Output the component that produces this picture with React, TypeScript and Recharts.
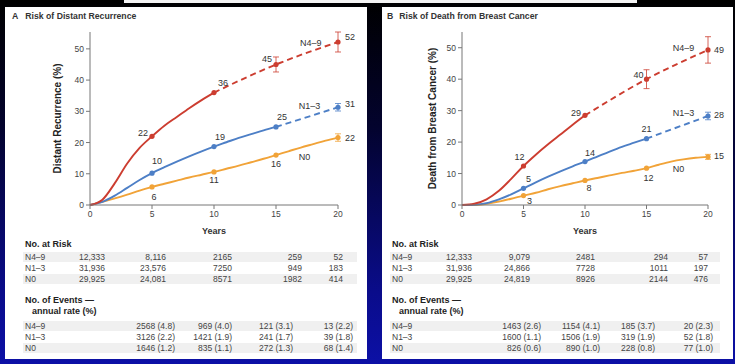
import React from 'react';
import { ComposedChart, Line, Scatter, XAxis, YAxis, ErrorBar } from 'recharts';

const FONT = "'Liberation Sans', Arial, sans-serif";
const RED = '#cc3d30';
const BLUE = '#4d7fc6';
const ORANGE = '#f1a338';

const years = [0, 1, 2, 3, 4, 5, 6, 7, 8, 9, 10, 11, 12, 13, 14, 15, 16, 17, 18, 19, 20];
const n49LateYears = [10, 15, 20];
const n13LateYears = [15, 20];
const markYears = [5, 10, 15, 20];
const groups = ['N4–9', 'N1–3', 'N0'];

// A: distant recurrence (%), solid = observed, late = dashed part
const recurN49 = [0, 1.7, 7, 13.3, 18.3, 22, 25.4, 28.2, 31, 33.6, 36];
const recurN49Late = [36, 45, 52.2];
const recurN13 = [0, 1, 3, 5.5, 8, 10.2, 12.1, 13.9, 15.6, 17.2, 18.7, 20.1, 21.5, 22.7, 23.9, 25];
const recurN13Late = [25, 31.3];
const recurN0 = [0, 1, 2.1, 3.3, 4.6, 5.8, 6.8, 7.8, 8.8, 9.7, 10.6, 11.6, 12.6, 13.7, 14.8, 16, 17.2, 18.4, 19.5, 20.6, 21.6];
const recurMarks = [[22, 36, 45, 52.2], [10.2, 18.7, 25, 31.3], [5.8, 10.6, 16, 21.6]];
const recurErr = [[0, 0, 2.4, 3.2], [0, 0, 0, 1.2], [0, 0, 0, 1.2]];
const recurLabels = [['22', '36', '45', '52'], ['10', '19', '25', '31'], ['6', '11', '16', '22']];

// B: death from breast cancer (%)
const deathN49 = [0, 0.4, 1.8, 4.5, 8.3, 12.4, 16, 19.3, 22.4, 25.5, 28.5];
const deathN49Late = [28.5, 40, 49.3];
const deathN13 = [0, 0.1, 0.6, 1.8, 3.4, 5.3, 7.2, 9, 10.7, 12.3, 13.8, 15.4, 17, 18.5, 19.8, 21.1];
const deathN13Late = [21.1, 28.3];
const deathN0 = [0, 0, 0.4, 1.1, 2, 3, 3.9, 5, 6, 6.9, 7.8, 8.6, 9.4, 10.2, 10.9, 11.7, 12.8, 13.8, 14.5, 15, 15.3];
const deathMarks = [[12.4, 28.5, 40, 49.3], [5.3, 13.8, 21.1, 28.3], [3, 7.8, 11.7, 15.3]];
const deathErr = [[0, 0, 3, 4.2], [0, 0, 0, 1.2], [0, 0, 0, 0.8]];
const deathLabels = [['12', '29', '40', '49'], ['5', '14', '21', '28'], ['3', '8', '12', '15']];

const recurAtRisk = [
  ['12,333', '8,116', '2165', '259', '52'],
  ['31,936', '23,576', '7250', '949', '183'],
  ['29,925', '24,081', '8571', '1982', '414'],
];
const recurEvents = [
  ['2568 (4.8)', '969 (4.0)', '121 (3.1)', '13 (2.2)'],
  ['3126 (2.2)', '1421 (1.9)', '241 (1.7)', '39 (1.8)'],
  ['1646 (1.2)', '835 (1.1)', '272 (1.3)', '68 (1.4)'],
];
const deathAtRisk = [
  ['12,333', '9,079', '2481', '294', '57'],
  ['31,936', '24,866', '7728', '1011', '197'],
  ['29,925', '24,819', '8926', '2144', '476'],
];
const deathEvents = [
  ['1463 (2.6)', '1154 (4.1)', '185 (3.7)', '20 (2.3)'],
  ['1600 (1.1)', '1506 (1.9)', '319 (1.9)', '52 (1.8)'],
  ['826 (0.6)', '890 (1.0)', '228 (0.8)', '77 (1.0)'],
];

// where the curve names sit, in data units
const recurNames = [[17.8, 52], [17.7, 31.8], [17.3, 15.3]];
const deathNames = [[18, 49.8], [18, 29.2], [17.6, 11.6]];

// label offsets (px) for each marker: [dx, dy, anchor]
const recurOffsets: [number, number, string][][] = [
  [[-4, -3, 'end'], [4, -10, 'start'], [-4, -5, 'end'], [7, -5, 'start']],
  [[5, -12, 'middle'], [6, -10, 'middle'], [6, -10, 'middle'], [7, -3, 'start']],
  [[2, 10, 'middle'], [0, 8, 'middle'], [0, 9, 'middle'], [7, 0, 'start']],
];
const deathOffsets: [number, number, string][][] = [
  [[-4, -9, 'middle'], [-4, -2, 'end'], [-3, -4, 'end'], [6, 0, 'start']],
  [[5, -9, 'middle'], [5, -9, 'middle'], [0, -10, 'middle'], [6, -1, 'start']],
  [[6, 5, 'middle'], [4, 8, 'middle'], [2, 10, 'middle'], [6, -1, 'start']],
];

const buildRows = (n49: number[], n49Late: number[], n13: number[], n13Late: number[], n0: number[]) =>
  years.map((yr, i) => ({
    year: yr,
    n49: i < n49.length ? n49[i] : null,
    n49Late: n49LateYears.includes(yr) ? n49Late[n49LateYears.indexOf(yr)] : null,
    n13: i < n13.length ? n13[i] : null,
    n13Late: n13LateYears.includes(yr) ? n13Late[n13LateYears.indexOf(yr)] : null,
    n0: n0[i],
  }));

const buildMarks = (vals: number[], errs: number[], labels: string[], offs: [number, number, string][]) =>
  markYears.map((yr, i) => ({
    year: yr,
    v: vals[i],
    err: errs[i],
    text: labels[i],
    dx: offs[i][0],
    dy: offs[i][1],
    anchor: offs[i][2],
  }));

const markShape = (color: string) => (p: any) => {
  const { cx, cy, payload } = p;
  if (cx == null || cy == null) return <g />;
  return (
    <g>
      <circle cx={cx} cy={cy} r={2.6} fill={color} />
      <text
        x={cx + payload.dx}
        y={cy + payload.dy}
        textAnchor={payload.anchor}
        dominantBaseline="central"
        fontSize={9}
        fontFamily={FONT}
        fill="#333"
      >
        {payload.text}
      </text>
    </g>
  );
};

const nameShape = (p: any) => {
  const { cx, cy, payload } = p;
  if (cx == null || cy == null) return <g />;
  return (
    <text x={cx} y={cy} textAnchor="middle" dominantBaseline="central" fontSize={9} fontFamily={FONT} fill="#333">
      {payload.text}
    </text>
  );
};

const yTick = (p: any) => {
  const v = p.payload.value;
  return (
    <text x={p.x} y={p.y} textAnchor="end" dominantBaseline="central" fontSize={8.5} fontFamily={FONT} fill="#444">
      {v % 10 === 0 ? v : ''}
    </text>
  );
};

interface PanelProps {
  left: number;
  width: number;
  marginLeft: number;
  marginRight: number;
  yLabel: string;
  yLabelOffset: number;
  rows: any[];
  marks: any[][];
  names: number[][];
}

const Panel = ({ left, width, marginLeft, marginRight, yLabel, yLabelOffset, rows, marks, names }: PanelProps) => {
  const colors = [RED, BLUE, ORANGE];
  const nameData = names.map((n, i) => ({ year: n[0], v: n[1], text: groups[i] }));
  return (
    <div style={{ position: 'absolute', left, top: 0 }}>
      <ComposedChart
        width={width}
        height={240}
        data={rows}
        margin={{ top: 32, right: marginRight, bottom: 0, left: marginLeft }}
        style={{ fontFamily: FONT }}
      >
        <XAxis
          type="number"
          dataKey="year"
          domain={[0, 20]}
          ticks={[0, 5, 10, 15, 20]}
          height={35}
          stroke="#777"
          tickSize={4}
          tick={{ fontSize: 8.5, fill: '#444', fontFamily: FONT }}
          label={{ value: 'Years', position: 'insideBottom', offset: 6, fontSize: 9, fontWeight: 'bold', fill: '#333' }}
        />
        <YAxis
          type="number"
          domain={[0, 55]}
          ticks={[0, 5, 10, 15, 20, 25, 30, 35, 40, 45, 50]}
          width={40}
          stroke="#777"
          tickSize={4}
          tick={yTick}
          label={{
            value: yLabel,
            angle: -90,
            position: 'insideLeft',
            offset: yLabelOffset,
            style: { textAnchor: 'middle', fontSize: 10, fontWeight: 'bold', fill: '#222', fontFamily: FONT },
          }}
        />
        <Line type="monotone" dataKey="n0" stroke={ORANGE} strokeWidth={1.9} dot={false} isAnimationActive={false} />
        <Line type="monotone" dataKey="n13" stroke={BLUE} strokeWidth={1.9} dot={false} isAnimationActive={false} />
        <Line
          type="monotone"
          dataKey="n13Late"
          stroke={BLUE}
          strokeWidth={1.9}
          strokeDasharray="6 4"
          connectNulls
          dot={false}
          isAnimationActive={false}
        />
        <Line type="monotone" dataKey="n49" stroke={RED} strokeWidth={1.9} dot={false} isAnimationActive={false} />
        <Line
          type="monotone"
          dataKey="n49Late"
          stroke={RED}
          strokeWidth={1.9}
          strokeDasharray="6 4"
          connectNulls
          dot={false}
          isAnimationActive={false}
        />
        {marks.map((m, i) => (
          <Scatter key={i} data={m} dataKey="v" shape={markShape(colors[i])} isAnimationActive={false}>
            <ErrorBar dataKey="err" direction="y" width={3} stroke={colors[i]} strokeWidth={0.8} />
          </Scatter>
        ))}
        <Scatter data={nameData} dataKey="v" shape={nameShape} isAnimationActive={false} />
      </ComposedChart>
    </div>
  );
};

interface TableProps {
  labelX: number;
  atRisk: string[][];
  events: string[][];
  riskRight: number[];
  eventRight: number[];
  stripeLeft: number;
  stripeWidth: number;
}

const cell: React.CSSProperties = { position: 'absolute', fontSize: 8.5, color: '#444', lineHeight: '10px', whiteSpace: 'nowrap' };
const head: React.CSSProperties = { ...cell, fontSize: 9, fontWeight: 'bold', color: '#222' };

const RiskTable = ({ labelX, atRisk, events, riskRight, eventRight, stripeLeft, stripeWidth }: TableProps) => {
  const riskRows = [252, 263, 274];
  const eventRows = [321, 332, 343];
  return (
    <>
      {[riskRows[0], riskRows[2], eventRows[0], eventRows[2]].map((t) => (
        <div key={t} style={{ position: 'absolute', left: stripeLeft, top: t, width: stripeWidth, height: 10, background: '#f0f0f0' }} />
      ))}
      <div style={{ ...head, left: labelX, top: 239 }}>No. at Risk</div>
      {atRisk.map((row, r) => (
        <React.Fragment key={r}>
          <div style={{ ...cell, left: labelX, top: riskRows[r] }}>{groups[r]}</div>
          {row.map((v, c) => (
            <div key={c} style={{ ...cell, left: riskRight[c] - 60, width: 60, textAlign: 'right', top: riskRows[r] }}>
              {v}
            </div>
          ))}
        </React.Fragment>
      ))}
      <div style={{ ...head, left: labelX, top: 295 }}>No. of Events —</div>
      <div style={{ ...head, left: labelX + 7, top: 306 }}>annual rate (%)</div>
      {events.map((row, r) => (
        <React.Fragment key={r}>
          <div style={{ ...cell, left: labelX, top: eventRows[r] }}>{groups[r]}</div>
          {row.map((v, c) => (
            <div key={c} style={{ ...cell, left: eventRight[c] - 60, width: 60, textAlign: 'right', top: eventRows[r] }}>
              {v}
            </div>
          ))}
        </React.Fragment>
      ))}
    </>
  );
};

const recurRows = buildRows(recurN49, recurN49Late, recurN13, recurN13Late, recurN0);
const deathRows = buildRows(deathN49, deathN49Late, deathN13, deathN13Late, deathN0);
const recurMarkData = [0, 1, 2].map((i) => buildMarks(recurMarks[i], recurErr[i], recurLabels[i], recurOffsets[i]));
const deathMarkData = [0, 1, 2].map((i) => buildMarks(deathMarks[i], deathErr[i], deathLabels[i], deathOffsets[i]));

const titleStyle: React.CSSProperties = { position: 'absolute', top: 11, fontSize: 8.7, fontWeight: 'bold', color: '#333', whiteSpace: 'nowrap' };

export default function App() {
  return (
    <div
      style={{
        position: 'fixed',
        left: 0,
        top: 0,
        width: 735,
        height: 364,
        overflow: 'hidden',
        fontFamily: FONT,
        background: 'linear-gradient(to bottom, #000000 0%, #03032e 35%, #0a0c8a 80%, #0c10a6 100%)',
      }}
    >
      <div style={{ position: 'absolute', left: 124, top: 0, width: 513, height: 3, background: '#f4f4f4' }} />
      <div style={{ position: 'absolute', left: 5, top: 7, width: 362, height: 352, background: '#fff' }} />
      <div style={{ position: 'absolute', left: 382, top: 7, width: 351, height: 352, background: '#fff' }} />

      <div style={{ ...titleStyle, left: 12 }}>
        A<span style={{ marginLeft: 7 }}>Risk of Distant Recurrence</span>
      </div>
      <div style={{ ...titleStyle, left: 387 }}>
        B<span style={{ marginLeft: 6 }}>Risk of Death from Breast Cancer</span>
      </div>

      <Panel
        left={0}
        width={370}
        marginLeft={50}
        marginRight={32}
        yLabel="Distant Recurrence (%)"
        yLabelOffset={7}
        rows={recurRows}
        marks={recurMarkData}
        names={recurNames}
      />
      <Panel
        left={372}
        width={363}
        marginLeft={50}
        marginRight={27}
        yLabel="Death from Breast Cancer (%)"
        yLabelOffset={10}
        rows={deathRows}
        marks={deathMarkData}
        names={deathNames}
      />

      <RiskTable
        labelX={25}
        atRisk={recurAtRisk}
        events={recurEvents}
        riskRight={[105, 166, 232, 302, 343]}
        eventRight={[175, 232, 293, 353]}
        stripeLeft={23}
        stripeWidth={334}
      />
      <RiskTable
        labelX={392}
        atRisk={deathAtRisk}
        events={deathEvents}
        riskRight={[472, 530, 595, 668, 708]}
        eventRight={[541, 600, 655, 713]}
        stripeLeft={390}
        stripeWidth={330}
      />
    </div>
  );
}
